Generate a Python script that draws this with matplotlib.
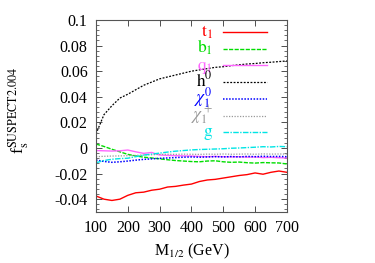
import matplotlib
matplotlib.use('Agg')
import matplotlib.pyplot as plt
from matplotlib.ticker import MultipleLocator

plt.rcParams['font.family'] = ['Liberation Serif', 'DejaVu Serif']
plt.rcParams['mathtext.fontset'] = 'stix'

# M_1/2 (GeV)
m12 = [100, 125, 150, 175, 200, 225, 250, 275, 300, 325, 350, 375, 400,
       425, 450, 475, 500, 525, 550, 575, 600, 625, 650, 675, 700]

t1 = [-0.0375, -0.0400, -0.0410, -0.0400, -0.0370, -0.0350, -0.0345, -0.0330,
      -0.0322, -0.0305, -0.0300, -0.0290, -0.0282, -0.0262, -0.0250, -0.0245,
      -0.0235, -0.0225, -0.0215, -0.0208, -0.0195, -0.0205, -0.0190, -0.0180, -0.0190]
b1 = [0.0031, 0.0012, -0.0010, -0.0030, -0.0050, -0.0062, -0.0072, -0.0078,
      -0.0085, -0.0092, -0.0098, -0.0102, -0.0106, -0.0108, -0.0102, -0.0100,
      -0.0108, -0.0112, -0.0110, -0.0115, -0.0118, -0.0114, -0.0116, -0.0117, -0.0125]
q1 = [-0.0020, -0.0022, -0.0024, -0.0022, -0.0016, -0.0030, -0.0042, -0.0035,
      -0.0055, -0.0058, -0.0060, -0.0062, -0.0063, -0.0066, -0.0068, -0.0066,
      -0.0068, -0.0070, -0.0068, -0.0072, -0.0070, -0.0075, -0.0073, -0.0076, -0.0078]
h0 = [0.011, 0.026, 0.033, 0.039, 0.042, 0.0455, 0.049, 0.0515, 0.054, 0.0555,
      0.057, 0.0585, 0.060, 0.061, 0.062, 0.063, 0.0635, 0.0643, 0.065, 0.0656,
      0.066, 0.0666, 0.067, 0.0675, 0.068]
chi01 = [-0.0094, -0.0105, -0.0112, -0.0108, -0.0102, -0.0095, -0.0089, -0.0085,
         -0.0081, -0.0078, -0.0075, -0.0072, -0.0070, -0.0072, -0.0070, -0.0068,
         -0.0070, -0.0067, -0.0070, -0.0066, -0.0068, -0.0065, -0.0067, -0.0066, -0.0068]
chip1 = [-0.0068, -0.0065, -0.0063, -0.0062, -0.0060, -0.0058, -0.0055, -0.0053,
         -0.0050, -0.0049, -0.0050, -0.0048, -0.0049, -0.0050, -0.0048, -0.0049,
         -0.0047, -0.0049, -0.0048, -0.0047, -0.0049, -0.0046, -0.0048, -0.0047, -0.0047]
g = [-0.0115, -0.0098, -0.0088, -0.0083, -0.0080, -0.0068, -0.0055, -0.0048,
     -0.0040, -0.0032, -0.0025, -0.0020, -0.0015, -0.0012, -0.0010, -0.0008,
     -0.0006, -0.0002, 0.0000, 0.0003, 0.0006, 0.0010, 0.0008, 0.0012, 0.0010]

labels = [r'$\mathrm{t}_1$', r'$\mathrm{b}_1$', r'$\mathrm{q}_1$', r'$\mathrm{h}^0$',
          r'$\chi^0_1$', r'$\chi^+_1$', r'$\mathrm{g}$']
series = [t1, b1, q1, h0, chi01, chip1, g]
colors = ['#ff0000', '#00dd00', '#ff66ff', '#000000', '#0000ff', '#999999', '#00e5e5']
styles = ['-', (0, (3, 1)), '-', (0, (1.5, 1.2)), (0, (1, 1)), (0, (1, 1.2)), (0, (4, 1, 1, 1))]
widths = [1.0, 1.0, 1.0, 0.9, 1.1, 0.9, 1.0]

fig = plt.figure(figsize=(3.75, 2.63), dpi=100)
ax = fig.add_axes([0.256, 0.194, 0.509, 0.730])

for y, c, ls, lw in zip(series, colors, styles, widths):
    ax.plot(m12, y, color=c, linestyle=ls, linewidth=lw)

# gnuplot-style key: label on the left, sample on the right
row0, step = 0.9375, 0.087
for i, (lab, c, ls, lw) in enumerate(zip(labels, colors, styles, widths)):
    yr = row0 - i * step
    ax.text(0.6126, yr - 0.022, lab, color=c, fontsize=12.5, ha='right',
            va='baseline', transform=ax.transAxes)
    ax.plot([0.665, 0.895], [yr, yr], color=c, linestyle=ls, linewidth=lw,
            transform=ax.transAxes, clip_on=False)

ax.set_xlim(100, 700)
ax.set_ylim(-0.05, 0.1)
ax.set_xticks([100, 200, 300, 400, 500, 600, 700])
ax.set_yticks([-0.04, -0.02, 0, 0.02, 0.04, 0.06, 0.08, 0.1])
ax.set_yticklabels(['-0.04', '-0.02', '0', '0.02', '0.04', '0.06', '0.08', '0.1'])
ax.yaxis.set_minor_locator(MultipleLocator(0.004))
ax.tick_params(which='both', direction='in', top=True, right=True, labelsize=11.5,
               color='#333333', pad=6)
ax.tick_params(which='major', length=4, width=0.6)
ax.tick_params(which='minor', length=2, width=0.5)
for s in ax.spines.values():
    s.set_color('#555555')
    s.set_linewidth(0.8)

ax.set_xlabel(r'M$_{1/2}$ (GeV)', fontsize=11.5, labelpad=4)
ax.set_ylabel(r'f$_\mathrm{s}^{\mathrm{SUSPECT2.004}}$', fontsize=12.5)
ax.yaxis.set_label_coords(-0.34, 0.53)

fig.savefig('out.png', dpi=100)
